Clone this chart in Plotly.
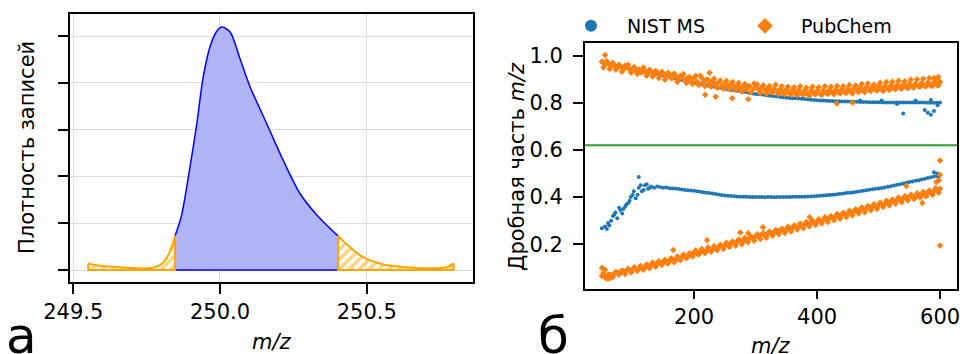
import plotly.graph_objects as go
import numpy as np

# ---------------- Panel а: density of records ----------------
tail_left_mz = [249.551, 249.58, 249.62, 249.68, 249.74, 249.77, 249.79, 249.81, 249.83, 249.847]
tail_left_dens = [0.14, 0.10, 0.075, 0.05, 0.035, 0.05, 0.09, 0.18, 0.40, 0.73]

core_mz = [249.847, 249.868, 249.898, 249.921, 249.943, 249.966, 249.988, 250.006, 250.034,
           250.068, 250.102, 250.159, 250.215, 250.272, 250.329, 250.37, 250.402]
core_dens = [0.73, 1.14, 2.21, 3.13, 4.13, 4.77, 5.09, 5.19, 5.09,
             4.52, 3.92, 3.13, 2.35, 1.64, 1.18, 0.92, 0.73]

tail_right_mz = [250.402, 250.442, 250.476, 250.5, 250.533, 250.556, 250.59, 250.63, 250.67,
                 250.703, 250.74, 250.771, 250.796]
tail_right_dens = [0.73, 0.49, 0.32, 0.24, 0.16, 0.12, 0.085, 0.06, 0.045,
                   0.038, 0.04, 0.06, 0.14]

left_xticks = [249.5, 250.0, 250.5]
left_xticklabels = ["249.5", "250.0", "250.5"]
left_yticks = [0, 1, 2, 3, 4, 5]

# ---------------- Panel б: fractional part of m/z ----------------
mz = list(range(50, 601, 5))
mz_b = list(np.arange(52.5, 600, 5.0))

nist_hi = [
    0.972, 0.968, 0.966, 0.963, 0.960, 0.958, 0.955, 0.952, 0.950, 0.947,
    0.945, 0.942, 0.939, 0.937, 0.933, 0.931, 0.928, 0.925, 0.921, 0.918,
    0.915, 0.912, 0.909, 0.906, 0.903, 0.900, 0.897, 0.894, 0.891, 0.888,
    0.885, 0.882, 0.880, 0.877, 0.874, 0.872, 0.869, 0.867, 0.864, 0.862,
    0.860, 0.857, 0.855, 0.853, 0.851, 0.849, 0.847, 0.845, 0.842, 0.840,
    0.838, 0.836, 0.835, 0.833, 0.831, 0.830, 0.828, 0.827, 0.825, 0.824,
    0.822, 0.821, 0.820, 0.819, 0.818, 0.817, 0.816, 0.814, 0.813, 0.812,
    0.811, 0.810, 0.810, 0.809, 0.808, 0.808, 0.807, 0.807, 0.806, 0.806,
    0.806, 0.805, 0.805, 0.805, 0.804, 0.804, 0.804, 0.803, 0.803, 0.803,
    0.803, 0.803, 0.802, 0.802, 0.802, 0.802, 0.802, 0.802, 0.802, 0.802,
    0.802, 0.801, 0.801, 0.801, 0.801, 0.801, 0.800, 0.800, 0.800, 0.800,
    0.801]

nist_lo = [
    0.268, 0.275, 0.290, 0.300, 0.325, 0.310, 0.345, 0.350, 0.370, 0.385,
    0.410, 0.395, 0.440, 0.425, 0.450, 0.435, 0.445, 0.440, 0.445, 0.442,
    0.440, 0.441, 0.438, 0.437, 0.436, 0.434, 0.432, 0.430, 0.429, 0.428,
    0.427, 0.425, 0.423, 0.421, 0.419, 0.417, 0.415, 0.413, 0.411, 0.409,
    0.407, 0.406, 0.405, 0.404, 0.403, 0.402, 0.401, 0.401, 0.400, 0.400,
    0.400, 0.400, 0.400, 0.399, 0.400, 0.400, 0.399, 0.400, 0.400, 0.400,
    0.400, 0.400, 0.401, 0.401, 0.401, 0.402, 0.402, 0.403, 0.403, 0.404,
    0.405, 0.406, 0.407, 0.408, 0.409, 0.410, 0.411, 0.413, 0.414, 0.416,
    0.418, 0.419, 0.421, 0.423, 0.425, 0.427, 0.429, 0.431, 0.433, 0.435,
    0.437, 0.439, 0.441, 0.444, 0.446, 0.449, 0.452, 0.455, 0.458, 0.461,
    0.464, 0.466, 0.469, 0.472, 0.475, 0.478, 0.481, 0.484, 0.487, 0.490,
    0.495]

nist_extra_mz = [58, 62, 68, 72, 78, 83, 88, 93, 97, 102, 108, 110, 113, 118, 123, 128,
                 540, 575, 580, 585, 590, 596, 590, 595, 598, 470, 505, 530, 560, 585]
nist_extra_val = [0.265, 0.28, 0.32, 0.335, 0.355, 0.33, 0.36, 0.375, 0.40, 0.425, 0.41, 0.485,
                  0.45, 0.43, 0.455, 0.44,
                  0.755, 0.77, 0.758, 0.75, 0.765, 0.79, 0.505, 0.50, 0.485,
                  0.81, 0.81, 0.795, 0.81, 0.812]

pub_hi_a = [
    0.975, 0.962, 0.968, 0.955, 0.960, 0.948, 0.956, 0.944, 0.951, 0.940,
    0.946, 0.935, 0.942, 0.930, 0.938, 0.926, 0.933, 0.920, 0.929, 0.918,
    0.924, 0.912, 0.920, 0.905, 0.915, 0.900, 0.912, 0.897, 0.908, 0.893,
    0.905, 0.890, 0.915, 0.886, 0.898, 0.882, 0.893, 0.879, 0.888, 0.872,
    0.884, 0.870, 0.880, 0.866, 0.876, 0.862, 0.872, 0.858, 0.870, 0.856,
    0.868, 0.855, 0.865, 0.852, 0.862, 0.848, 0.860, 0.846, 0.858, 0.845,
    0.857, 0.843, 0.856, 0.842, 0.855, 0.840, 0.853, 0.838, 0.852, 0.840,
    0.852, 0.838, 0.853, 0.842, 0.855, 0.843, 0.856, 0.845, 0.858, 0.846,
    0.860, 0.848, 0.862, 0.850, 0.864, 0.853, 0.866, 0.855, 0.868, 0.856,
    0.870, 0.858, 0.872, 0.860, 0.874, 0.862, 0.876, 0.864, 0.878, 0.866,
    0.880, 0.868, 0.882, 0.870, 0.884, 0.872, 0.886, 0.874, 0.888, 0.876,
    0.890]

pub_hi_b = [
    0.950, 0.978, 0.944, 0.970, 0.940, 0.962, 0.932, 0.957, 0.962, 0.928,
    0.952, 0.922, 0.930, 0.950, 0.915, 0.940, 0.912, 0.935, 0.905, 0.932,
    0.898, 0.928, 0.905, 0.925, 0.888, 0.915, 0.922, 0.884, 0.910, 0.880,
    0.915, 0.876, 0.905, 0.870, 0.898, 0.868, 0.902, 0.864, 0.895, 0.860,
    0.893, 0.858, 0.888, 0.855, 0.884, 0.848, 0.880, 0.868, 0.845, 0.882,
    0.878, 0.842, 0.875, 0.840, 0.872, 0.845, 0.877, 0.838, 0.870, 0.836,
    0.868, 0.835, 0.866, 0.832, 0.870, 0.834, 0.864, 0.830, 0.868, 0.836,
    0.866, 0.834, 0.870, 0.838, 0.868, 0.836, 0.872, 0.840, 0.870, 0.842,
    0.876, 0.840, 0.874, 0.846, 0.880, 0.845, 0.882, 0.850, 0.878, 0.852,
    0.885, 0.850, 0.888, 0.855, 0.890, 0.858, 0.894, 0.860, 0.892, 0.862,
    0.898, 0.865, 0.900, 0.868, 0.902, 0.870, 0.905, 0.872, 0.900, 0.875]

pub_lo_a = [
    0.065, 0.060, 0.070, 0.068, 0.075, 0.080, 0.078, 0.085, 0.090, 0.088,
    0.092, 0.097, 0.095, 0.102, 0.100, 0.108, 0.112, 0.110, 0.117, 0.120,
    0.125, 0.122, 0.130, 0.135, 0.133, 0.141, 0.145, 0.150, 0.148, 0.158,
    0.165, 0.160, 0.168, 0.172, 0.170, 0.178, 0.182, 0.180, 0.188, 0.192,
    0.195, 0.198, 0.205, 0.202, 0.210, 0.215, 0.213, 0.220, 0.225, 0.228,
    0.232, 0.235, 0.240, 0.238, 0.245, 0.248, 0.250, 0.255, 0.258, 0.260,
    0.262, 0.268, 0.270, 0.275, 0.273, 0.280, 0.285, 0.283, 0.290, 0.292,
    0.295, 0.300, 0.303, 0.305, 0.312, 0.310, 0.318, 0.320, 0.325, 0.328,
    0.330, 0.336, 0.338, 0.343, 0.345, 0.350, 0.352, 0.358, 0.360, 0.362,
    0.365, 0.372, 0.370, 0.378, 0.380, 0.385, 0.388, 0.390, 0.395, 0.398,
    0.400, 0.405, 0.402, 0.410, 0.412, 0.408, 0.418, 0.420, 0.425, 0.430,
    0.435]

pub_lo_b = [
    0.078, 0.055, 0.072, 0.060, 0.082, 0.070, 0.088, 0.074, 0.096, 0.080,
    0.102, 0.086, 0.108, 0.092, 0.114, 0.098, 0.122, 0.104, 0.128, 0.112,
    0.134, 0.118, 0.140, 0.124, 0.148, 0.132, 0.156, 0.140, 0.162, 0.148,
    0.174, 0.156, 0.180, 0.162, 0.186, 0.168, 0.192, 0.174, 0.198, 0.180,
    0.206, 0.188, 0.212, 0.194, 0.220, 0.200, 0.226, 0.208, 0.232, 0.215,
    0.242, 0.222, 0.248, 0.228, 0.254, 0.236, 0.260, 0.242, 0.266, 0.248,
    0.274, 0.254, 0.280, 0.262, 0.288, 0.268, 0.294, 0.276, 0.300, 0.282,
    0.306, 0.288, 0.314, 0.294, 0.320, 0.302, 0.328, 0.308, 0.334, 0.316,
    0.342, 0.322, 0.348, 0.330, 0.356, 0.336, 0.362, 0.344, 0.370, 0.350,
    0.376, 0.358, 0.384, 0.364, 0.390, 0.372, 0.398, 0.378, 0.404, 0.386,
    0.410, 0.392, 0.416, 0.398, 0.422, 0.404, 0.428, 0.410, 0.438, 0.418]

pub_extra_mz = [55, 218, 235, 262, 288, 432, 458, 225, 590, 597,
                50, 55, 62, 166, 221, 275, 288, 312, 388, 545, 594, 571,
                600, 600, 600, 598]
pub_extra_val = [1.003, 0.834, 0.826, 0.82, 0.815, 0.797, 0.80, 0.928, 0.905, 0.91,
                 0.10, 0.092, 0.055, 0.175, 0.217, 0.25, 0.247, 0.272, 0.315, 0.447, 0.464, 0.375,
                 0.555, 0.495, 0.195, 0.47]

threshold = 0.62
right_xticks = [200, 400, 600]
right_yticks = [0.2, 0.4, 0.6, 0.8, 1.0]

# ---------------- figure ----------------
W, H = 960, 354
FONT = "DejaVu Sans"
ORANGE = "#ffa500"

def px_x(p):
    return p / W

def px_y(p):
    return (H - p) / H

fig = go.Figure()

hatch = dict(shape="/", fgcolor=ORANGE, bgcolor="rgba(255,255,255,0)", size=7, solidity=0.5)

# core (blue)
fig.add_trace(go.Scatter(x=core_mz, y=core_dens, mode="lines", line=dict(color="#0000ff", width=1.5, shape="spline", smoothing=0.8),
                         fill="tozeroy", fillcolor="#b1b3f7", xaxis="x", yaxis="y", showlegend=False, hoverinfo="skip"))
fig.add_trace(go.Scatter(x=[core_mz[0], core_mz[-1]], y=[0, 0], mode="lines", line=dict(color="#0000ff", width=1.5),
                         xaxis="x", yaxis="y", showlegend=False, hoverinfo="skip"))
# tails (orange hatched)
for tx, ty in [(tail_left_mz, tail_left_dens), (tail_right_mz, tail_right_dens)]:
    fig.add_trace(go.Scatter(x=tx, y=ty, mode="lines", line=dict(color=ORANGE, width=2, shape="spline", smoothing=0.8),
                             fill="tozeroy", fillcolor="rgba(255,255,255,0)", fillpattern=hatch,
                             xaxis="x", yaxis="y", showlegend=False, hoverinfo="skip"))
    fig.add_trace(go.Scatter(x=[tx[0], tx[0], tx[-1], tx[-1]], y=[ty[0], 0, 0, ty[-1]], mode="lines",
                             line=dict(color=ORANGE, width=2), xaxis="x", yaxis="y",
                             showlegend=False, hoverinfo="skip"))

# panel б scatter
nist_x = mz + mz + nist_extra_mz
nist_y = nist_hi + nist_lo + nist_extra_val
pub_x = mz + mz_b + mz + mz_b + pub_extra_mz
pub_y = pub_hi_a + pub_hi_b + pub_lo_a + pub_lo_b + pub_extra_val

fig.add_trace(go.Scatter(x=nist_x, y=nist_y, mode="markers", name="NIST MS",
                         marker=dict(color="#1f77b4", size=4, symbol="circle", line=dict(width=0)),
                         xaxis="x2", yaxis="y2"))
fig.add_trace(go.Scatter(x=pub_x, y=pub_y, mode="markers", name="PubChem",
                         marker=dict(color="#ff7f0e", size=5, symbol="diamond", line=dict(width=0)),
                         xaxis="x2", yaxis="y2"))

axis_common = dict(showline=True, linecolor="black", linewidth=2, mirror=True, ticks="outside",
                   tickcolor="black", tickwidth=1.5, tickfont=dict(family=FONT, size=21, color="black"),
                   zeroline=False, automargin=False, ticklabeloverflow="allow")

fig.update_layout(
    width=W, height=H,
    margin=dict(l=0, r=0, t=0, b=0, autoexpand=False),
    paper_bgcolor="white", plot_bgcolor="white",
    font=dict(family=FONT, color="black"),
    xaxis=dict(domain=[px_x(70), px_x(473)], range=[249.489, 250.862], tickvals=left_xticks,
               ticktext=left_xticklabels, ticklen=10, showgrid=True, gridcolor="#dcdcdc", gridwidth=1,
               anchor="y", **axis_common),
    yaxis=dict(domain=[px_y(282), px_y(14)], range=[-0.256, 5.47], tickvals=left_yticks,
               showticklabels=False, ticklen=10, showgrid=True, gridcolor="#dcdcdc", gridwidth=1,
               anchor="x", **axis_common),
    xaxis2=dict(domain=[px_x(585), px_x(957)], range=[22.5, 627.5], tickvals=right_xticks,
                ticklen=8, showgrid=False, anchor="y2", **axis_common),
    yaxis2=dict(domain=[px_y(289), px_y(43)], range=[0.01, 1.054], tickvals=right_yticks,
                tickformat=".1f", ticklen=10, showgrid=False, anchor="x2", ticklabelstandoff=6,
                **axis_common),
    legend=dict(orientation="h", x=px_x(555), y=px_y(26), xanchor="left", yanchor="middle",
                font=dict(family=FONT, size=19, color="black"), itemsizing="constant",
                itemwidth=62, entrywidth=97, bgcolor="rgba(0,0,0,0)"),
    shapes=[dict(type="line", xref="x2 domain", yref="y2", x0=0, x1=1, y0=threshold, y1=threshold,
                 line=dict(color="#2ca02c", width=2))],
    annotations=[
        dict(text="Плотность записей", xref="paper", yref="paper", x=px_x(27), y=px_y(148),
             textangle=-90, showarrow=False, font=dict(family=FONT, size=21, color="black"),
             xanchor="center", yanchor="middle"),
        dict(text="<i>m/z</i>", xref="paper", yref="paper", x=px_x(272), y=px_y(342),
             showarrow=False, font=dict(family=FONT, size=21, color="black"),
             xanchor="center", yanchor="middle"),
        dict(text="Дробная часть <i>m/z</i>", xref="paper", yref="paper", x=px_x(517), y=px_y(167),
             textangle=-90, showarrow=False, font=dict(family=FONT, size=21, color="black"),
             xanchor="center", yanchor="middle"),
        dict(text="<i>m/z</i>", xref="paper", yref="paper", x=px_x(771), y=px_y(346),
             showarrow=False, font=dict(family=FONT, size=21, color="black"),
             xanchor="center", yanchor="middle"),
        dict(text="а", xref="paper", yref="paper", x=px_x(4), y=px_y(336),
             showarrow=False, font=dict(family=FONT, size=50, color="black"),
             xanchor="left", yanchor="middle"),
        dict(text="б", xref="paper", yref="paper", x=px_x(536), y=px_y(336),
             showarrow=False, font=dict(family=FONT, size=50, color="black"),
             xanchor="left", yanchor="middle"),
    ],
)

fig.write_html("out.html", config={"displayModeBar": False},
               post_script="document.body.style.margin='0px';document.body.style.overflow='hidden';")
